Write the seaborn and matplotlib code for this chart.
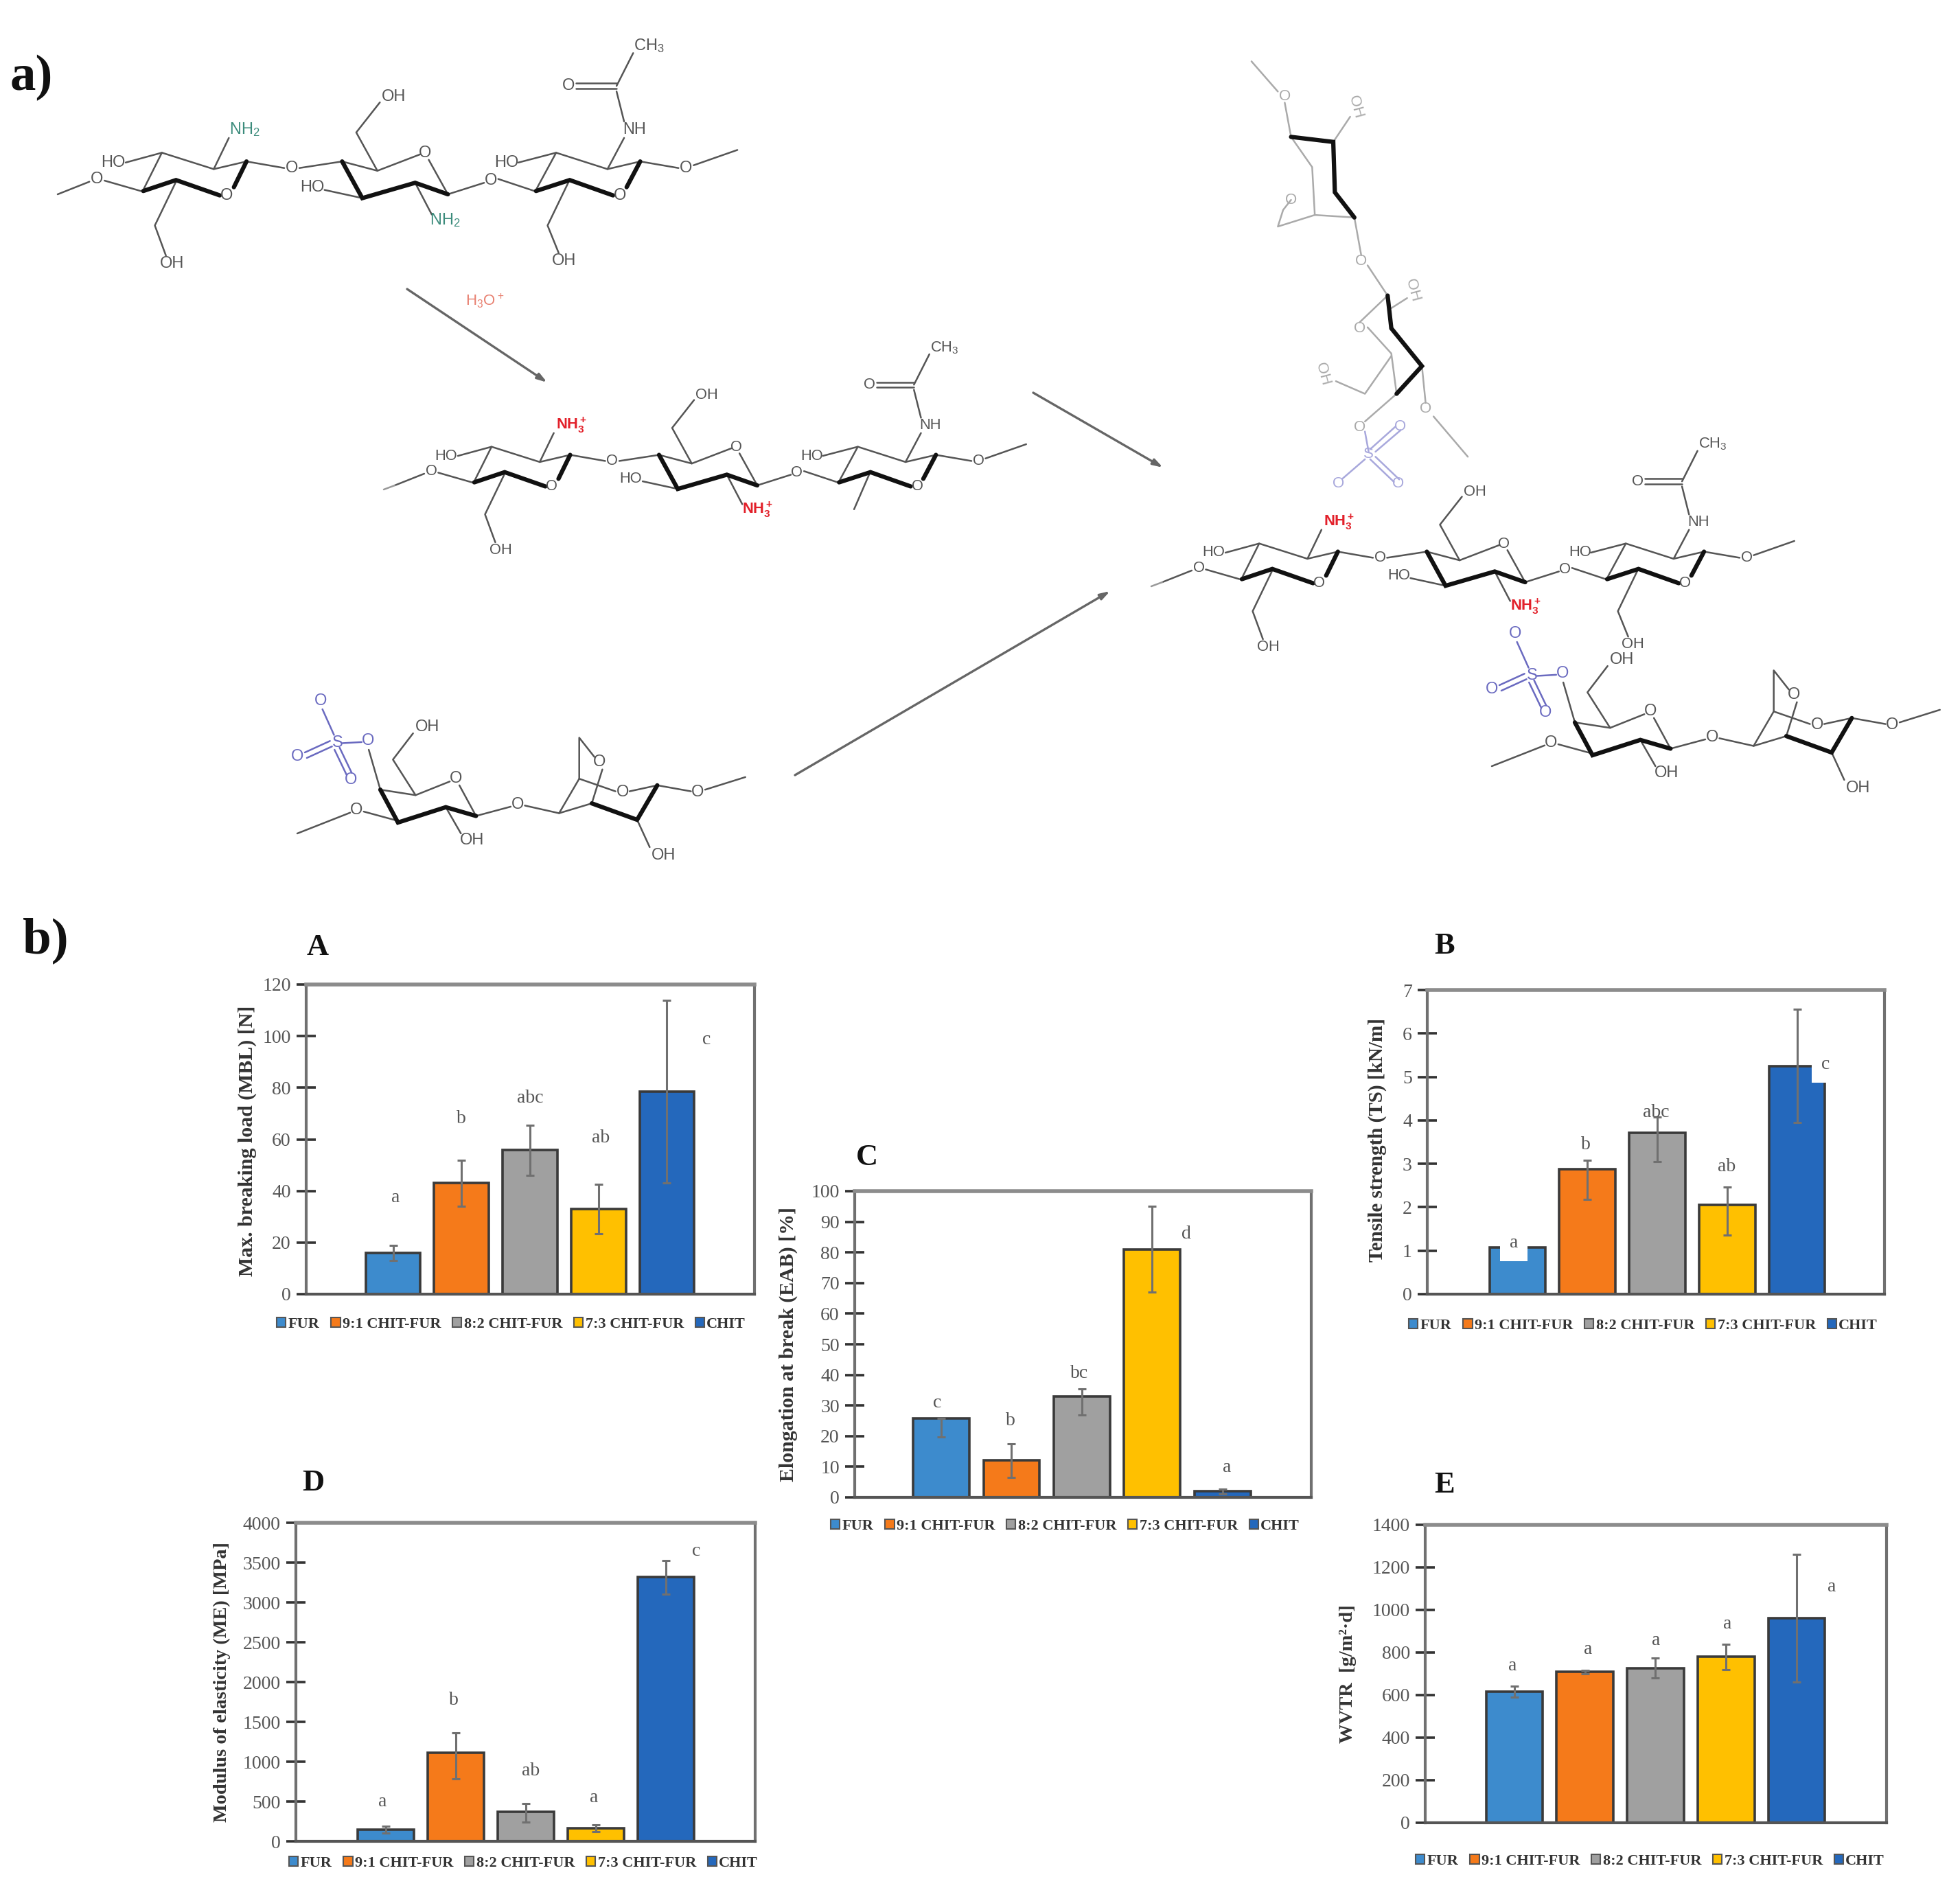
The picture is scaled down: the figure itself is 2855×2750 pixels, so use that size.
import numpy as np
import pandas as pd
import matplotlib
matplotlib.use("Agg")
import matplotlib.pyplot as plt
from matplotlib.patches import Patch
import seaborn as sns

W, H = 2855, 2750

samples = ["FUR", "9:1 CHIT-FUR", "8:2 CHIT-FUR", "7:3 CHIT-FUR", "CHIT"]
colors = ["#3D8BCD", "#F57A1A", "#A0A0A0", "#FFC000", "#2468BC"]

mbl = [16, 43, 56, 33, 78.5]
mbl_low = [3, 9, 10, 9.5, 35.5]
mbl_up = [3, 9, 9.5, 9.5, 35.5]
mbl_letters = ["a", "b", "abc", "ab", "c"]
mbl_letter_x = [0.04, 1.0, 2.0, 3.03, 4.58]
mbl_letter_y = [37.5, 68, 76, 60.5, 98.7]
mbl_ticks = [0, 20, 40, 60, 80, 100, 120]

ts = [1.08, 2.88, 3.72, 2.05, 5.25]
ts_low = [0.15, 0.7, 0.67, 0.69, 1.3]
ts_up = [0.1, 0.2, 0.35, 0.41, 1.3]
ts_letters = ["a", "b", "abc", "ab", "c"]
ts_letter_x = [-0.05, 0.98, 1.98, 2.99, 4.41]
ts_letter_y = [1.18, 3.43, 4.18, 2.93, 5.28]
ts_ticks = [0, 1, 2, 3, 4, 5, 6, 7]

eab = [25.7, 12, 33, 81, 2]
eab_low = [6, 5.5, 6, 14, 0.8]
eab_up = [0, 5.5, 2.5, 14, 0.8]
eab_letters = ["c", "b", "bc", "d", "a"]
eab_letter_x = [-0.06, 0.98, 1.96, 3.48, 4.06]
eab_letter_y = [30.8, 25, 40.5, 86, 9.8]
eab_ticks = [0, 10, 20, 30, 40, 50, 60, 70, 80, 90, 100]

me = [147, 1108, 375, 164, 3315]
me_low = [40, 320, 135, 40, 208]
me_up = [40, 250, 100, 40, 208]
me_letters = ["a", "b", "ab", "a", "c"]
me_letter_x = [-0.04, 0.97, 2.07, 2.97, 4.43]
me_letter_y = [494, 1773, 880, 545, 3638]
me_ticks = [0, 500, 1000, 1500, 2000, 2500, 3000, 3500, 4000]

wvtr = [616, 709, 727, 782, 960]
wvtr_low = [25, 8, 45, 62, 300]
wvtr_up = [25, 8, 47, 57, 300]
wvtr_letters = ["a", "a", "a", "a", "a"]
wvtr_letter_x = [-0.02, 1.04, 2.01, 3.02, 4.49]
wvtr_letter_y = [737, 813, 858, 935, 1109]
wvtr_ticks = [0, 200, 400, 600, 800, 1000, 1200, 1400]

sns.set_theme(style="white")
plt.rcParams["font.family"] = ["Liberation Serif", "DejaVu Serif"]
plt.rcParams["mathtext.default"] = "regular"

fig = plt.figure(figsize=(W / 100, H / 100), dpi=100, facecolor="white")


def make_axes(box):
    x0, y0, x1, y1 = box
    return fig.add_axes([x0 / W, 1 - y1 / H, (x1 - x0) / W, (y1 - y0) / H])


def panel(box, xlim, vals, low, up, letters, lx, ly, ticks, ylabel, label_fs, label_xy, title, title_xy,
          legend_box, boxed=()):
    ax = make_axes(box)
    df = pd.DataFrame({"sample": samples, "value": vals})
    sns.barplot(data=df, x="sample", y="value", hue="sample", order=samples, hue_order=samples,
                palette=colors, width=0.8, edgecolor="#3a3a3a", linewidth=2.6, saturation=1,
                dodge=False, legend=False, errorbar=None, ax=ax)
    ax.errorbar(range(5), vals, yerr=[low, up], fmt="none", ecolor="#707070",
                elinewidth=2.2, capsize=4, capthick=2.2, zorder=5)
    ax.set_xlim(*xlim)
    ax.set_ylim(ticks[0], ticks[-1])
    ax.set_yticks(ticks)
    ax.set_xticks([])
    ax.set_xlabel("")
    ax.set_ylabel("")
    ax.tick_params(axis="y", direction="inout", length=20, width=2.6, color="#333333",
                   labelsize=20, labelcolor="#555555", pad=6, left=True)
    for s in ax.spines.values():
        s.set_visible(True)
        s.set_color("#707070")
        s.set_linewidth(3)
    ax.spines["top"].set_color("#8c8c8c")
    ax.spines["top"].set_linewidth(4)
    ax.spines["bottom"].set_color("#555555")
    for i, (t, x, y) in enumerate(zip(letters, lx, ly)):
        kw = {}
        if i in boxed:
            kw["bbox"] = dict(facecolor="white", edgecolor="none", pad=10)
        ax.text(x, y, t, ha="center", va="center", fontsize=20, color="#555555", zorder=6, **kw)
    fig.text(label_xy[0] / W, 1 - label_xy[1] / H, ylabel, rotation=90, ha="center", va="center",
             fontsize=label_fs, fontweight="bold", color="#333333")
    fig.text(title_xy[0] / W, 1 - title_xy[1] / H, title, ha="center", va="center",
             fontsize=32, fontweight="bold", color="#111111")
    handles = [Patch(facecolor=c, edgecolor="#555555", linewidth=1.5) for c in colors]
    (lx0, lx1, lyc) = legend_box
    leg = fig.legend(handles, samples, ncol=5, frameon=False, loc="center",
                     bbox_to_anchor=((lx0 + lx1) / 2 / W, 1 - lyc / H),
                     fontsize=16, handlelength=0.6, handleheight=0.6, handletextpad=0.15,
                     columnspacing=0.75, borderpad=0, borderaxespad=0)
    for t in leg.get_texts():
        t.set_fontweight("bold")
        t.set_color("#333333")
    return ax


panel((446, 1434, 1099, 1885), (-1.27, 5.28), mbl, mbl_low, mbl_up, mbl_letters, mbl_letter_x,
      mbl_letter_y, mbl_ticks, "Max. breaking load (MBL) [N]", 21.5, (360, 1662), "A", (463, 1380),
      (406, 1083, 1929))
panel((2079, 1442, 2745, 1885), (-1.29, 5.25), ts, ts_low, ts_up, ts_letters, ts_letter_x,
      ts_letter_y, ts_ticks, "Tensile strength (TS) [kN/m]", 21, (2006, 1660), "B", (2104, 1378),
      (2043, 2744, 1931), boxed=(0, 4))
panel((1245, 1735, 1910, 2181), (-1.23, 5.26), eab, eab_low, eab_up, eab_letters, eab_letter_x,
      eab_letter_y, eab_ticks, "Elongation at break (EAB) [%]", 21.5, (1148, 1958), "C", (1263, 1686),
      (1195, 1908, 2223))
panel((431, 2218, 1100, 2682), (-1.28, 5.27), me, me_low, me_up, me_letters, me_letter_x,
      me_letter_y, me_ticks, "Modulus of elasticity (ME) [MPa]", 20.3, (323, 2450), "D", (456, 2160),
      (413, 1112, 2714))
panel((2076, 2221, 2748, 2655), (-1.26, 5.27), wvtr, wvtr_low, wvtr_up, wvtr_letters, wvtr_letter_x,
      wvtr_letter_y, wvtr_ticks, "WVTR  [g/m²·d]", 20.5, (1963, 2438), "E", (2104, 2163),
      (2045, 2762, 2711))

# ---------------- reaction scheme (drawn in an overlay, pixel coordinates) ----------------
ov = fig.add_axes([0, 0, 1, 1], facecolor="none")
ov.set_xlim(0, W)
ov.set_ylim(H, 0)
ov.axis("off")

INK = "#555555"
SANS = ["Liberation Sans", "DejaVu Sans"]

CHIT_THIN = [
    [(115, 318), (178, 295)], [(208, 293), (280, 312)],
    [(285, 310), (322, 242), (425, 272), (490, 258), (565, 270)],
    [(250, 260), (322, 242)], [(425, 272), (455, 215)],
    [(350, 295), (308, 375), (330, 430)],
    [(595, 270), (680, 258), (750, 275), (835, 245)],
    [(750, 275), (708, 205), (755, 150)], [(645, 310), (720, 325)],
    [(825, 297), (858, 355)], [(852, 255), (890, 318), (962, 297)],
    [(990, 290), (1062, 312)], [(1065, 310), (1105, 242), (1207, 272), (1272, 258), (1348, 270)],
    [(1030, 260), (1105, 242)], [(1207, 272), (1240, 215)], [(1240, 185), (1225, 130)],
    [(1225, 120), (1258, 60)], [(1145, 115), (1225, 115)], [(1145, 125), (1225, 125)],
    [(1378, 265), (1465, 237)],
]
CHIT_SIDE_FULL = [(1130, 295), (1088, 375), (1110, 425)]
CHIT_SIDE_STUB = [(1130, 295), (1097, 365)]
CHIT_BOLD = [
    [(285, 312), (350, 292), (437, 320)], [(465, 305), (490, 258)],
    [(680, 258), (720, 325), (825, 297), (890, 318)],
    [(1065, 312), (1132, 292), (1218, 320)], [(1245, 305), (1272, 258)],
]
CHIT_LABELS = [("O", 193, 290), ("HO", 225, 260), ("OH", 342, 445), ("O", 450, 320), ("O", 580, 270),
               ("OH", 782, 140), ("O", 845, 243), ("HO", 620, 305), ("O", 975, 293),
               ("HO", 1007, 260), ("O", 1232, 320), ("NH", 1260, 200), ("O", 1130, 120),
               ("CH$_3$", 1290, 47), ("O", 1363, 270)]
CHIT_SIDE_LABEL = [("OH", 1120, 440)]
CHIT_AMINES = [(487, 200), (885, 365)]

FUR_THIN = [
    [(590, 1485), (695, 1447)], [(722, 1445), (790, 1462)],
    [(755, 1405), (825, 1415), (893, 1390)], [(825, 1415), (780, 1350), (820, 1302)],
    [(755, 1405), (732, 1332)], [(885, 1437), (915, 1485)], [(912, 1397), (945, 1453), (1014, 1436)],
    [(1042, 1434), (1110, 1448), (1150, 1385), (1150, 1310), (1180, 1345)],
    [(1150, 1385), (1222, 1408)], [(1250, 1408), (1305, 1397), (1372, 1408)],
    [(1196, 1368), (1175, 1430)], [(1265, 1460), (1290, 1510)], [(1400, 1405), (1480, 1382)],
    [(1110, 1448), (1175, 1430)],
]
FUR_BOLD = [
    [(755, 1405), (790, 1465), (885, 1437), (945, 1453)],
    [(1175, 1430), (1265, 1460), (1305, 1397)],
]
FUR_LABELS = [("O", 708, 1442), ("OH", 848, 1290), ("O", 905, 1385), ("OH", 937, 1497), ("O", 1028, 1432),
              ("O", 1190, 1355), ("O", 1237, 1410), ("OH", 1318, 1525), ("O", 1385, 1410)]
SULF_LINES = [[(718, 1318), (680, 1320)], [(663, 1305), (640, 1258)],
              [(655, 1316), (605, 1337)], [(659, 1326), (609, 1347)],
              [(664, 1332), (688, 1378)], [(674, 1328), (698, 1374)]]
SULF_LABELS = [("O", 730, 1316), ("S", 670, 1320), ("O", 636, 1243), ("O", 590, 1345), ("O", 697, 1387)]
SULF_GREY = "#6a6ac0"


def mapper(ox, oy, s, zx0, zy0):
    return lambda p: (ox + s * (p[0] - zx0) / 1.3635, oy + s * (p[1] - zy0) / 1.2544)


def draw(tf, thin, bold, labels, color=INK, lw=1.8, fs=17, bold_c="#111111", bold_lw=4.5):
    for seg in thin:
        xy = np.array([tf(p) for p in seg])
        ov.plot(xy[:, 0], xy[:, 1], color=color, lw=lw, solid_capstyle="round")
    for seg in bold:
        xy = np.array([tf(p) for p in seg])
        ov.plot(xy[:, 0], xy[:, 1], color=bold_c, lw=bold_lw, solid_capstyle="round",
                solid_joinstyle="miter")
    for t, x, y in labels:
        px, py = tf((x, y))
        ov.text(px, py, t, ha="center", va="center", fontsize=fs, color=color, family=SANS)


def chitosan(ox, oy, s, amine, amine_color, full_side=True, tail=None, amine_dx=0):
    tf = mapper(ox, oy, s, 115, 318)
    side = [CHIT_SIDE_FULL] if full_side else [CHIT_SIDE_STUB]
    labels = CHIT_LABELS + (CHIT_SIDE_LABEL if full_side else [])
    draw(tf, CHIT_THIN + side, CHIT_BOLD, labels, fs=17 * s)
    for x, y in CHIT_AMINES:
        px, py = tf((x, y))
        ov.text(px + amine_dx, py, amine, ha="center", va="center", fontsize=17 * s, color=amine_color,
                family=SANS, fontweight="bold" if "3" in amine else "normal")
    if tail is not None:
        ov.plot([tail[0], ox], [tail[1], oy], color="#999999", lw=1.8)


def furcellaran(ox, oy):
    tf = mapper(ox, oy, 1.0, 590, 1485)
    draw(tf, FUR_THIN, FUR_BOLD, FUR_LABELS, fs=17)
    draw(tf, SULF_LINES, [], SULF_LABELS, color=SULF_GREY, fs=17)


chitosan(84, 283, 1.0, "NH$_2$", "#3c8c7c")
chitosan(575, 707, 0.929, "NH$_3^+$", "#e2202a", full_side=False, tail=(559, 713), amine_dx=4)
chitosan(1693, 848, 0.93, "NH$_3^+$", "#e2202a", tail=(1677, 854), amine_dx=4)
furcellaran(433, 1214)
furcellaran(2173, 1116)

FADED_THIN = [
    [(225, 40), (275, 100)], [(288, 122), (300, 190)], [(380, 200), (412, 150)],
    [(300, 190), (340, 250), (345, 345), (420, 350)], [(345, 345), (275, 368), (285, 335), (300, 315)],
    [(420, 350), (433, 425)], [(445, 445), (483, 505)], [(445, 568), (490, 620), (500, 700)],
    [(430, 558), (483, 505)], [(490, 530), (520, 510)], [(490, 625), (440, 700), (385, 675)],
    [(548, 645), (555, 718)], [(570, 745), (635, 825)], [(500, 700), (440, 755)],
]
FADED_BOLD = [
    [(300, 190), (380, 200), (383, 300), (420, 350)],
    [(483, 505), (490, 570), (548, 645), (500, 700)],
]
FADED_LABELS = [("O", 288, 110), ("O", 300, 315), ("O", 433, 437), ("O", 430, 570), ("O", 555, 730),
                ("O", 430, 767)]
FADED_ROT = [("OH", 422, 130), ("OH", 530, 495), ("OH", 360, 660)]
FADED_SULF = [[(440, 775), (447, 815)], [(440, 830), (398, 868)],
              [(450, 810), (498, 765)], [(460, 815), (508, 772)],
              [(450, 830), (495, 875)], [(460, 825), (505, 870)]]
FADED_SULF_LABELS = [("S", 447, 820), ("O", 390, 878), ("O", 507, 765), ("O", 503, 878)]


def tf7(p):
    return (1650 + p[0] / 1.301, 60 + p[1] / 1.363)


draw(tf7, FADED_THIN, FADED_BOLD, FADED_LABELS, color="#aaaaaa", fs=16)
for t, x, y in FADED_ROT:
    px, py = tf7((x, y))
    ov.text(px, py, t, ha="center", va="center", rotation=-75, fontsize=16, color="#aaaaaa", family=SANS)
draw(tf7, FADED_SULF, [], FADED_SULF_LABELS, color="#a8a8dc", fs=16)

ARROWS = [((593, 421), (797, 557)), ((1505, 572), (1694, 681)), ((1158, 1129), (1617, 861))]
for a, b in ARROWS:
    ov.annotate("", xy=b, xytext=a, arrowprops=dict(arrowstyle="-|>,head_length=0.7,head_width=0.22",
                                                   color="#666666", lw=2.4, shrinkA=0, shrinkB=0))

ov.text(706, 438, "H$_3$O$^+$", ha="center", va="center", fontsize=16, color="#e88070", family=SANS)

ov.text(15, 113, "a)", ha="left", va="center", fontsize=54, fontweight="bold", color="#111111")
ov.text(33, 1370, "b)", ha="left", va="center", fontsize=54, fontweight="bold", color="#111111")

fig.savefig("out.png", dpi=100, facecolor="white")
